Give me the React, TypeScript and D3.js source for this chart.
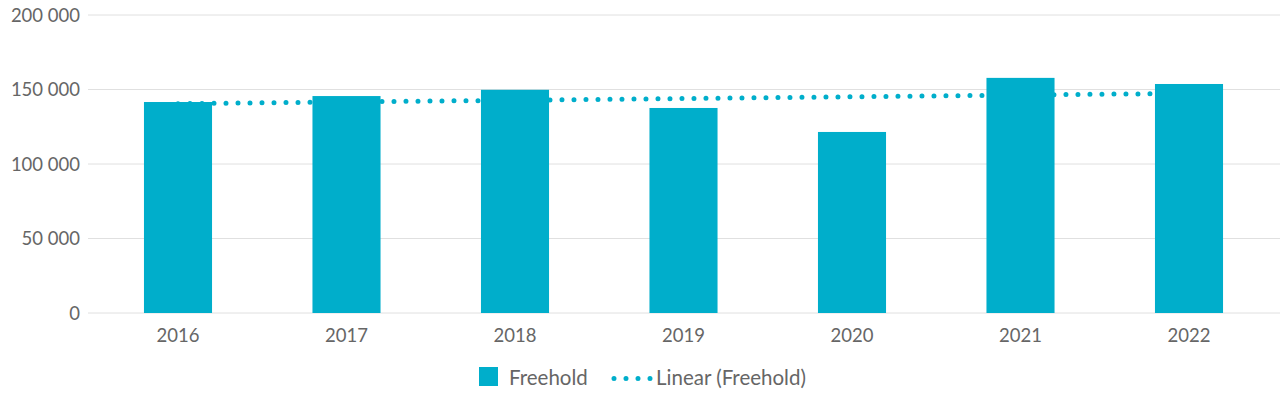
import React from "react";
import * as d3 from "d3";

const categories = ["2016", "2017", "2018", "2019", "2020", "2021", "2022"];
const freehold = [141600, 145600, 149800, 137600, 121500, 157800, 153700];
const yTicks = [0, 50000, 100000, 150000, 200000];
const seriesName = "Freehold";
const trendName = "Linear (Freehold)";

const W = 1280;
const H = 394;
const BLUE = "#00aecb";
const FONT = "Lato, 'Open Sans', sans-serif";

export default function App() {
  const x = d3
    .scaleBand<string>()
    .domain(categories)
    .range([93.75, 1273.25])
    .paddingInner(0.596)
    .paddingOuter(0.298);
  const y = d3.scaleLinear().domain([0, 200000]).range([313, 15]);

  // linear regression trend
  const xs = freehold.map((_, i) => i);
  const mx = d3.mean(xs)!;
  const my = d3.mean(freehold)!;
  const slope =
    d3.sum(xs.map((xi, i) => (xi - mx) * (freehold[i] - my))) /
    d3.sum(xs.map((xi) => (xi - mx) ** 2));
  const icpt = my - slope * mx;
  const trend = xs.map((xi) => icpt + slope * xi);
  const line = d3
    .line<number>()
    .x((_, i) => x(categories[i])! + x.bandwidth() / 2)
    .y((v) => y(v));

  const fmt = (v: number) => d3.format(",")(v).replace(/,/g, " ");

  return (
    <svg width={W} height={H} style={{ position: "absolute", left: 0, top: 0 }}>
      {yTicks.map((t) => (
        <g key={t}>
          <line x1={88} x2={W} y1={y(t)} y2={y(t)} stroke="#e0e0e0" strokeWidth={1} />
          <text
            x={80}
            y={y(t)}
            dy="0.36em"
            textAnchor="end"
            fontFamily={FONT}
            fontSize={18.5}
            fill="#666"
          >
            {fmt(t)}
          </text>
        </g>
      ))}
      <path
        d={line(trend) || ""}
        fill="none"
        stroke={BLUE}
        strokeWidth={5}
        strokeLinecap="round"
        strokeDasharray="0 12"
      />
      {categories.map((c, i) => (
        <rect
          key={c}
          x={x(c)}
          y={y(freehold[i])}
          width={x.bandwidth()}
          height={y(0) - y(freehold[i])}
          fill={BLUE}
        />
      ))}
      {categories.map((c) => (
        <text
          key={c}
          x={x(c)! + x.bandwidth() / 2}
          y={342}
          textAnchor="middle"
          fontFamily={FONT}
          fontSize={18.5}
          fill="#666"
        >
          {c}
        </text>
      ))}
      <g>
        <rect x={479} y={367} width={19} height={19} fill={BLUE} />
        <text x={509} y={385} fontFamily={FONT} fontSize={20.5} fill="#666">
          {seriesName}
        </text>
        <line
          x1={614}
          x2={652}
          y1={378.5}
          y2={378.5}
          stroke={BLUE}
          strokeWidth={5}
          strokeLinecap="round"
          strokeDasharray="0 12"
        />
        <text x={656} y={385} fontFamily={FONT} fontSize={20.5} fill="#666">
          {trendName}
        </text>
      </g>
    </svg>
  );
}
